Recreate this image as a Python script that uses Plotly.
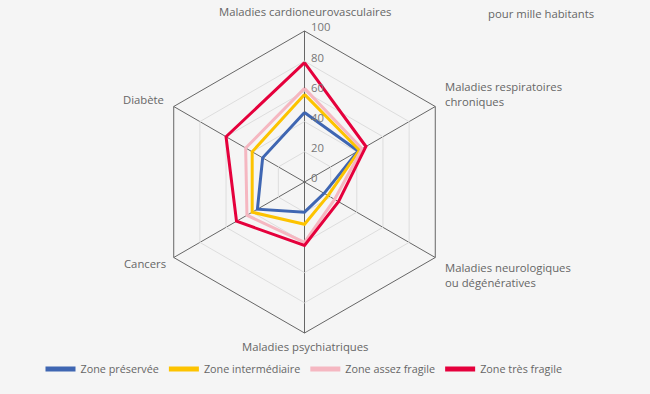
import math
import plotly.graph_objects as go

categories = [
    "Maladies cardioneurovasculaires",
    "Maladies respiratoires<br>chroniques",
    "Maladies neurologiques<br>ou dégénératives",
    "Maladies psychiatriques",
    "Cancers",
    "Diabète",
]
series_names = ["Zone préservée", "Zone intermédiaire", "Zone assez fragile", "Zone très fragile"]
zone_preservee = [46, 41, 15, 20, 36, 32]
zone_intermediaire = [58, 42, 18, 28, 40, 40]
zone_assez_fragile = [62, 44, 23, 40, 44, 45]
zone_tres_fragile = [79, 47, 26, 42, 52, 60]
radial_ticks = [0, 20, 40, 60, 80, 100]
colors = ["#3f66b2", "#fdc300", "#f5b7c1", "#e5003c"]

W, H = 650, 394
FS = 11.3
R_MAX = 100
# polar domain (paper fractions)
DOM_X = [153.5 / W, 455.5 / W]
DOM_Y = [61 / H, 363 / H]

fig = go.Figure()
for i, (name, vals, col) in enumerate(zip(series_names,
                           [zone_preservee, zone_intermediaire, zone_assez_fragile, zone_tres_fragile],
                           colors)):
    fig.add_trace(go.Scatterpolar(
        r=vals + vals[:1], theta=categories + categories[:1], mode="lines",
        name=name, line=dict(color=col, width=3), legendgroup=f"g{i}", showlegend=False,
    ))
# legend-only entries with thicker swatches
for i, (name, col) in enumerate(zip(series_names, colors)):
    fig.add_trace(go.Scatterpolar(
        r=[None], theta=[categories[0]], mode="lines",
        name=name, line=dict(color=col, width=5), legendgroup=f"g{i}", showlegend=True,
    ))

cx = (DOM_X[0] + DOM_X[1]) / 2
cy = (DOM_Y[0] + DOM_Y[1]) / 2
rx = (DOM_X[1] - DOM_X[0]) / 2
ry = (DOM_Y[1] - DOM_Y[0]) / 2

# category labels just outside each hexagon vertex
label_style = [  # xanchor, align, xshift, yshift
    ("center", "center", 0, 19),
    ("left", "left", 8, 12),
    ("left", "left", 8, -17),
    ("center", "center", 0, -14),
    ("right", "right", -6, -5.5),
    ("right", "right", -8, 6.5),
]
annotations = []
n = len(categories)
for k, (cat, st) in enumerate(zip(categories, label_style)):
    ang = math.radians(90 - 360 * k / n)
    annotations.append(dict(
        text=cat, x=cx + rx * math.cos(ang), y=cy + ry * math.sin(ang),
        xref="paper", yref="paper", xanchor=st[0], yanchor="middle", align=st[1],
        xshift=st[2], yshift=st[3], showarrow=False,
        font=dict(size=FS, color="#666666"),
    ))
# radial tick labels, drawn slightly above each grid level, right of the vertical spoke
for v in radial_ticks:
    annotations.append(dict(
        text=str(v), x=cx, y=cy + ry * v / R_MAX, xref="paper", yref="paper",
        xanchor="left", yanchor="middle", xshift=4, yshift=4, showarrow=False,
        font=dict(size=FS, color="#777777"),
    ))
annotations.append(dict(text="pour mille habitants", x=540.5 / W, y=(H - 13) / H,
                        xref="paper", yref="paper", xanchor="center", yanchor="middle",
                        showarrow=False, font=dict(size=FS, color="#666666")))

fig.update_layout(
    width=W, height=H,
    paper_bgcolor="#f5f5f5", plot_bgcolor="#f5f5f5",
    margin=dict(l=0, r=0, t=0, b=0, autoexpand=False),
    font=dict(family="Open Sans", size=FS, color="#666666"),
    polar=dict(
        bgcolor="#f5f5f5",
        gridshape="linear",
        domain=dict(x=DOM_X, y=DOM_Y),
        radialaxis=dict(
            range=[0, R_MAX], tickvals=radial_ticks, angle=90, showline=False,
            gridcolor="#dddddd", gridwidth=1, ticks="", showticklabels=False,
        ),
        angularaxis=dict(
            direction="clockwise", rotation=90, showline=True, linecolor="#666666", linewidth=1,
            gridcolor="#666666", gridwidth=1, ticks="", showticklabels=False,
        ),
    ),
    legend=dict(orientation="h", x=40.5 / W, y=(H - 369) / H, xanchor="left", yanchor="middle",
                itemwidth=30, font=dict(size=10.8, color="#666666"), bgcolor="rgba(0,0,0,0)"),
    annotations=annotations,
)

fig.write_html(
    "out.html",
    config={"displayModeBar": False},
    post_script="document.body.style.margin='0';document.body.style.background='#f5f5f5';",
)
